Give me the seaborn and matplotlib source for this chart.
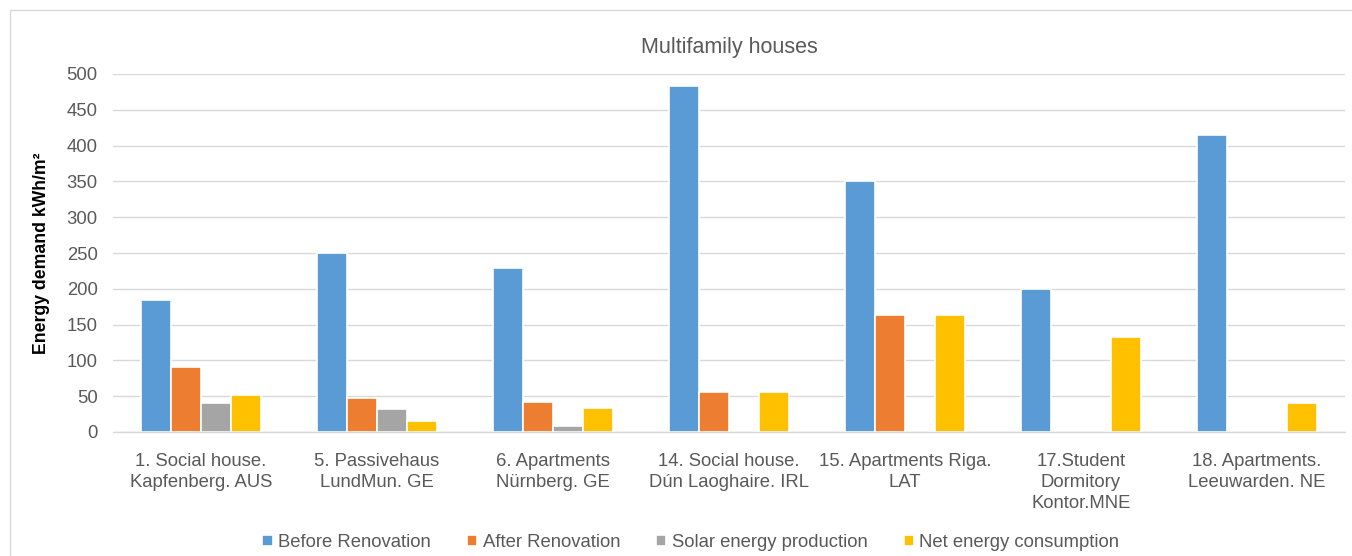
import numpy as np
import pandas as pd
import matplotlib
matplotlib.use("Agg")
import matplotlib.pyplot as plt
from matplotlib.patches import Rectangle
import seaborn as sns

categories = [
    "1. Social house.\nKapfenberg. AUS",
    "5. Passivehaus\nLundMun. GE",
    "6. Apartments\nNürnberg. GE",
    "14. Social house.\nDún Laoghaire. IRL",
    "15. Apartments Riga.\nLAT",
    "17.Student\nDormitory\nKontor.MNE",
    "18. Apartments.\nLeeuwarden. NE",
]
series = ["Before Renovation", "After Renovation", "Solar energy production", "Net energy consumption"]
before_renovation = [184, 250, 229, 483, 351, 200, 415]
after_renovation = [91, 48, 42, 56, 163, np.nan, np.nan]
solar_production = [40, 32, 9, np.nan, np.nan, np.nan, np.nan]
net_consumption = [52, 16, 34, 56, 163, 132, 40]
colors = ["#5B9BD5", "#ED7D31", "#A5A5A5", "#FFC000"]

rows = []
for name, vals in zip(series, [before_renovation, after_renovation, solar_production, net_consumption]):
    for cat, v in zip(categories, vals):
        rows.append({"category": cat, "series": name, "value": v})
df = pd.DataFrame(rows).dropna()

sns.set_theme(style="white")
plt.rcParams["font.family"] = ["Liberation Sans", "DejaVu Sans"]

W, H = 1352, 556
fig = plt.figure(figsize=(W / 100, H / 100), dpi=100)
ax = fig.add_axes([113 / W, 1 - 432 / H, (1345 - 113) / W, (432 - 74) / H])

sns.barplot(data=df, x="category", y="value", hue="series",
            order=categories, hue_order=series, palette=colors, saturation=1,
            width=0.68, errorbar=None, edgecolor="white", linewidth=1.2,
            ax=ax, legend=True)

ax.set_ylim(0, 500)
ax.set_yticks(range(0, 501, 50))
ax.grid(axis="y", color="#D9D9D9", linewidth=1)
ax.set_axisbelow(True)
for s in ["top", "right", "left"]:
    ax.spines[s].set_visible(False)
ax.spines["bottom"].set_color("#D9D9D9")
ax.spines["bottom"].set_linewidth(1)

txt = "#595959"
fs = 13.3
ax.tick_params(axis="x", length=0, pad=15, labelsize=fs, labelcolor=txt)
ax.tick_params(axis="y", length=0, pad=11, labelsize=fs, labelcolor=txt)
for lab in ax.get_xticklabels():
    lab.set_linespacing(1.3)
ax.set_xlabel("")
ax.set_ylabel("Energy demand kWh/m²", fontsize=12.7, fontweight="bold", color="black", labelpad=12)
ax.set_title("Multifamily houses", fontsize=15.5, color=txt, pad=15)

handles, labels = ax.get_legend_handles_labels()
ax.legend_.remove()
fig.legend(handles, labels, loc="lower center", bbox_to_anchor=(0.511, -0.021), ncol=4,
           frameon=False, fontsize=fs, labelcolor=txt, handlelength=0.55,
           handleheight=0.55, handletextpad=0.3, columnspacing=1.95)

# chart-area frame
fig.patches.append(Rectangle((10 / W, -0.1), 1.2, 1 - 10 / H + 0.1,
                             transform=fig.transFigure, fill=False,
                             edgecolor="#D9D9D9", linewidth=1))

fig.savefig("out.png", dpi=100)
